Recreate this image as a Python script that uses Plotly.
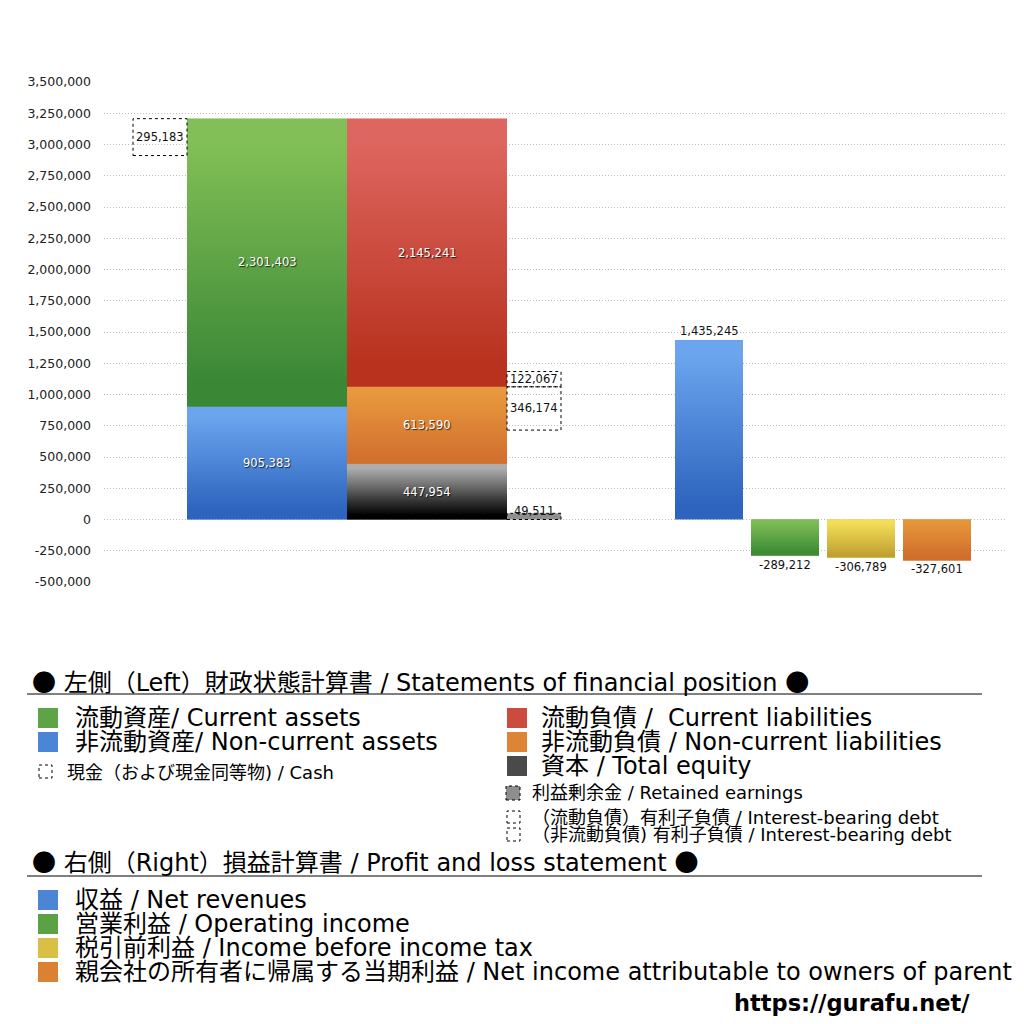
import plotly.graph_objects as go

# --- values ---
asset_labels = ["Non-current assets", "Current assets"]
asset_values = [905383, 2301403]
claim_labels = ["Total equity", "Non-current liabilities", "Current liabilities"]
claim_values = [447954, 613590, 2145241]
cash_value = 295183
retained_earnings = 49511
debt_labels = ["Non-current interest-bearing debt", "Current interest-bearing debt"]
debt_values = [346174, 122067]
pl_labels = ["Net revenues", "Operating income", "Income before income tax",
             "Net income attributable to owners of parent"]
pl_values = [1435245, -289212, -306789, -327601]
y_ticks = [-500000, -250000, 0, 250000, 500000, 750000, 1000000, 1250000, 1500000,
           1750000, 2000000, 2250000, 2500000, 2750000, 3000000, 3250000, 3500000]

# --- geometry / styling ---
L, R, T, B = 104, 1005, 82, 582          # plot area in page pixels
PAGE_PAD = 8                              # default body margin of the html page
FONT = "DejaVu Sans, Noto Sans CJK JP"
CJK = "Noto Sans CJK JP"
COL_CASH, COL_ASSETS, COL_CLAIMS, COL_SIDE = (56, 54), (163, 160), (323, 160), (430, 54)
PL_X, PL_W = [605, 681, 757, 833], 68
BIG, SMALL = 24, 18

# (bottom colour, top colour)
ASSET_COLORS = [("#2E64BE", "#6AA5EE"), ("#3A8736", "#82BF56")]
CLAIM_COLORS = [("#000000", "#ADADAD"), ("#D2712E", "#E8983E"), ("#B8321E", "#DE6660")]
PL_COLORS = [("#2E64BE", "#6AA5EE"), ("#3C8A36", "#7DBB55"),
             ("#C1A032", "#F2DE58"), ("#D06E2C", "#E5953A")]
RETAINED_COLOR = "#8E8E8E"

WHITE_LABEL = dict(family=FONT, size=11.5, color="white", shadow="1px 1px 1px rgba(0,0,0,0.75)")
DARK_LABEL = dict(family=FONT, size=11.5, color="#111")
DOTTED = dict(color="black", width=1, dash="dot")


def mid(c1, c2):
    a = [int(c1[i:i + 2], 16) for i in (1, 3, 5)]
    b = [int(c2[i:i + 2], 16) for i in (1, 3, 5)]
    return "#%02x%02x%02x" % tuple((p + q) // 2 for p, q in zip(a, b))


fig = go.Figure()


def add_bar(col, base, value, colors):
    xc, w = col
    fig.add_bar(x=[xc], y=[value], base=[base], width=[w], zorder=-1,
                marker=dict(color=mid(*colors), line_width=0),
                hoverinfo="skip", showlegend=False)
    # vertical gradient painted over the bar
    lo, hi = sorted([base, base + value])
    n = 6
    fig.add_heatmap(x=[xc - w / 2, xc, xc + w / 2],
                    y=[lo + (hi - lo) * k / n for k in range(n + 1)],
                    z=[[k / (n - 1)] * 2 for k in range(n)],
                    colorscale=[[0, colors[0]], [1, colors[1]]], zmin=0, zmax=1,
                    zsmooth="best", showscale=False, hoverinfo="skip")


def value_label(x, y, v, font, yanchor="middle", yshift=0):
    fig.add_annotation(x=x, y=y, text=f"{v:,}", showarrow=False, font=font,
                       yanchor=yanchor, yshift=yshift)


def dotted_box(col, y0, y1, fill="rgba(0,0,0,0)"):
    xc, w = col
    fig.add_shape(type="rect", x0=xc - w / 2, x1=xc + w / 2, y0=y0, y1=y1,
                  line=DOTTED, fillcolor=fill, layer="above")


# assets column
base = 0
for v, c in zip(asset_values, ASSET_COLORS):
    add_bar(COL_ASSETS, base, v, c)
    value_label(COL_ASSETS[0], base + v / 2, v, WHITE_LABEL)
    base += v
total_assets = base

dotted_box(COL_CASH, total_assets - cash_value, total_assets)
value_label(COL_CASH[0], total_assets - cash_value / 2, cash_value, DARK_LABEL)

# liabilities + equity column
base = 0
for v, c in zip(claim_values, CLAIM_COLORS):
    add_bar(COL_CLAIMS, base, v, c)
    value_label(COL_CLAIMS[0], base + v / 2, v, WHITE_LABEL)
    base += v

# interest-bearing debt boxes, meeting at the top of non-current liabilities
nc_top = claim_values[0] + claim_values[1]
dotted_box(COL_SIDE, nc_top - debt_values[0], nc_top)
value_label(COL_SIDE[0], nc_top - debt_values[0] / 2, debt_values[0], DARK_LABEL)
dotted_box(COL_SIDE, nc_top, nc_top + debt_values[1])
value_label(COL_SIDE[0], nc_top + debt_values[1] / 2, debt_values[1], DARK_LABEL)

# retained earnings
fig.add_bar(x=[COL_SIDE[0]], y=[retained_earnings], base=[0], width=[COL_SIDE[1]], zorder=-1,
            marker=dict(color=RETAINED_COLOR, line_width=0), hoverinfo="skip", showlegend=False)
dotted_box(COL_SIDE, 0, retained_earnings)
value_label(COL_SIDE[0], retained_earnings, retained_earnings, DARK_LABEL, yshift=2)

# profit and loss bars
for x, v, c in zip(PL_X, pl_values, PL_COLORS):
    add_bar((x, PL_W), 0, v, c)
    value_label(x, v, v, DARK_LABEL, yanchor="bottom" if v > 0 else "top")


# --- legend block below the plot (page pixel positions) ---
def px(x):
    return (x - L) / (R - L)


def py(y):
    return (B - y) / (B - T)


def legend_text(x, y, text, size):
    fig.add_annotation(xref="paper", yref="paper", x=px(x), y=py(y), text=text,
                       xanchor="left", yanchor="middle", showarrow=False,
                       font=dict(family=FONT, size=size, color="black"))


def legend_box(x0, y0, x1, y1, fill, dotted=False):
    fig.add_shape(type="rect", xref="paper", yref="paper",
                  x0=px(x0), x1=px(x1), y0=py(y1), y1=py(y0), fillcolor=fill,
                  line=DOTTED if dotted else dict(width=0))


def rule(y):
    fig.add_shape(type="line", xref="paper", yref="paper", x0=px(27), x1=px(982),
                  y0=py(y), y1=py(y), line=dict(color="black", width=1))


DOT = f'<span style="font-family:{CJK}">●</span>'
legend_text(30, 680, f"{DOT} 左側（Left）財政状態計算書 / Statements of financial position {DOT}", BIG)
rule(694)
legend_box(38, 708, 58, 728, mid(*ASSET_COLORS[1]))
legend_text(73, 718, "流動資産/ Current assets", BIG)
legend_box(38, 732, 58, 752, mid(*ASSET_COLORS[0]))
legend_text(73, 742, "非流動資産/ Non-current assets", BIG)
legend_box(39, 765, 52, 778, "white", dotted=True)
legend_text(65, 772, "現金（および現金同等物) / Cash", SMALL)

legend_box(507, 708, 527, 728, mid(*CLAIM_COLORS[2]))
legend_text(539, 718, "流動負債 /  Current liabilities", BIG)
legend_box(507, 732, 527, 752, mid(*CLAIM_COLORS[1]))
legend_text(539, 742, "非流動負債 / Non-current liabilities", BIG)
legend_box(507, 756, 527, 776, "#4a4a4a")
legend_text(539, 766, "資本 / Total equity", BIG)
legend_box(506, 786, 520, 800, RETAINED_COLOR, dotted=True)
legend_text(530, 792, "利益剰余金 / Retained earnings", SMALL)
legend_box(507, 811, 520, 823, "white", dotted=True)
legend_text(530, 817, "（流動負債）有利子負債 / Interest-bearing debt", SMALL)
legend_box(507, 828, 520, 841, "white", dotted=True)
legend_text(530, 834, "（非流動負債) 有利子負債 / Interest-bearing debt", SMALL)

legend_text(30, 860, f"{DOT} 右側（Right）損益計算書 / Profit and loss statement {DOT}", BIG)
rule(876)
pl_texts = ["収益 / Net revenues", "営業利益 / Operating income",
            "税引前利益 / Income before income tax",
            "親会社の所有者に帰属する当期利益 / Net income attributable to owners of parent"]
for i, (t, c) in enumerate(zip(pl_texts, PL_COLORS)):
    legend_box(38, 890 + 24 * i, 58, 910 + 24 * i, mid(*c))
    legend_text(73, 900 + 24 * i, t, BIG)

fig.add_annotation(xref="paper", yref="paper", x=px(972), y=py(1003), text="<b>https://gurafu.net/</b>",
                   xanchor="right", yanchor="middle", showarrow=False,
                   font=dict(family="DejaVu Sans", size=22.5, color="black"))

fig.update_layout(
    width=1024, height=1024,
    margin=dict(l=L - PAGE_PAD, r=1024 - (R - PAGE_PAD), t=T - PAGE_PAD, b=1024 - (B - PAGE_PAD)),
    paper_bgcolor="white", plot_bgcolor="white",
    barmode="overlay", showlegend=False,
    font=dict(family=FONT, size=12, color="#222"),
    xaxis=dict(range=[0, R - L], visible=False, fixedrange=True),
    yaxis=dict(range=[-500000, 3500000], tickvals=y_ticks,
               ticktext=[f"{v:,}" for v in y_ticks],
               showgrid=True, gridcolor="#bdbdbd", griddash="1px,2px", gridwidth=1,
               zeroline=False, showline=False, ticks="", ticklabelstandoff=12,
               tickfont=dict(family=FONT, size=12.5, color="#222")),
)

fig.write_html("out.html")
